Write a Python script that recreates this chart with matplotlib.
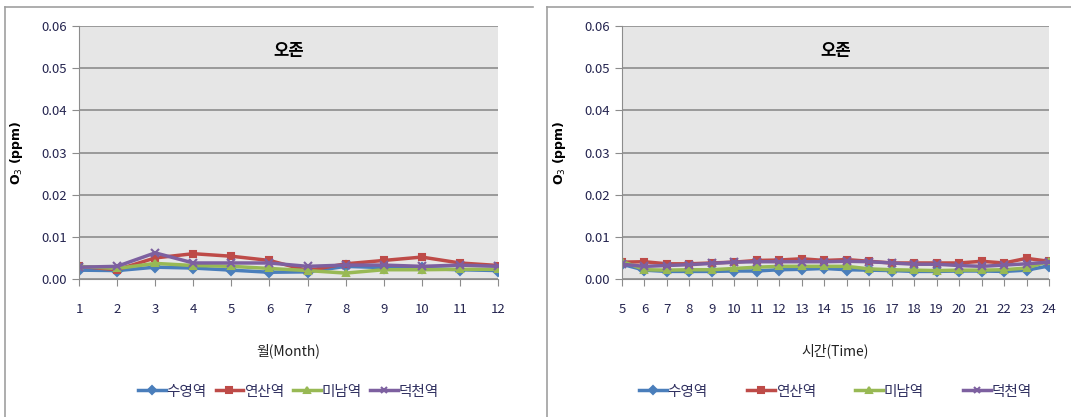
import numpy as np
import matplotlib
matplotlib.use("Agg")
import matplotlib.pyplot as plt
from matplotlib.lines import Line2D

plt.rcParams['font.family'] = ['Liberation Sans Narrow', 'Noto Sans CJK KR', 'DejaVu Sans']

# 데이터
stations = ['수영역', '연산역', '미남역', '덕천역']
colors = ['#4A7EBB', '#BE4B48', '#98B954', '#7D60A0']
markers = ['D', 's', '^', 'x']

months = [1, 2, 3, 4, 5, 6, 7, 8, 9, 10, 11, 12]
month_suyeong = [0.0021, 0.0020, 0.0028, 0.0026, 0.0021, 0.0016, 0.0017, 0.0030, 0.0027, 0.0025, 0.0022, 0.0020]
month_yeonsan = [0.0030, 0.0022, 0.0050, 0.0060, 0.0054, 0.0044, 0.0020, 0.0036, 0.0044, 0.0052, 0.0038, 0.0032]
month_minam = [0.0030, 0.0025, 0.0037, 0.0032, 0.0030, 0.0025, 0.0020, 0.0014, 0.0022, 0.0022, 0.0023, 0.0023]
month_deokcheon = [0.0028, 0.0030, 0.0062, 0.0038, 0.0038, 0.0038, 0.0030, 0.0033, 0.0033, 0.0030, 0.0033, 0.0030]

hours = list(range(5, 25))
hour_suyeong = [0.0035, 0.0021, 0.0018, 0.0018, 0.0018, 0.0019, 0.0019, 0.0022, 0.0023, 0.0025,
                0.0022, 0.0021, 0.0020, 0.0018, 0.0018, 0.0019, 0.0019, 0.0018, 0.0021, 0.0031]
hour_yeonsan = [0.0040, 0.0041, 0.0036, 0.0036, 0.0038, 0.0040, 0.0044, 0.0045, 0.0048, 0.0044,
                0.0046, 0.0042, 0.0038, 0.0038, 0.0038, 0.0038, 0.0042, 0.0038, 0.0049, 0.0042]
hour_minam = [0.0042, 0.0022, 0.0021, 0.0022, 0.0022, 0.0025, 0.0028, 0.0030, 0.0030, 0.0030,
              0.0030, 0.0024, 0.0022, 0.0021, 0.0020, 0.0021, 0.0021, 0.0022, 0.0026, 0.0042]
hour_deokcheon = [0.0035, 0.0030, 0.0032, 0.0034, 0.0037, 0.0040, 0.0041, 0.0041, 0.0041, 0.0041,
                  0.0042, 0.0041, 0.0038, 0.0035, 0.0035, 0.0032, 0.0030, 0.0033, 0.0036, 0.0040]

yticks = [0.00, 0.01, 0.02, 0.03, 0.04, 0.05, 0.06]
tick_color = '#252550'

fig = plt.figure(figsize=(10.71, 4.17), dpi=100)

# 패널 테두리
for x0 in [5 / 1071, 547 / 1071]:
    fig.add_artist(Line2D([x0, x0], [0, 1 - 7 / 417], color='#a0a0a0', lw=1.2, transform=fig.transFigure))
    fig.add_artist(Line2D([x0, x0 + 528 / 1071], [1 - 7 / 417, 1 - 7 / 417], color='#a0a0a0', lw=1.2,
                          transform=fig.transFigure))


def draw(ax, x, series, xlabel, colspace):
    ax.set_facecolor('#e6e6e6')
    for vals, name, c, m in zip(series, stations, colors, markers):
        ms = 5 if m != 'x' else 6
        ax.plot(x, vals, color=c, lw=2.5, marker=m, ms=ms, mew=1.5, label=name)
    ax.set_xlim(x[0], x[-1])
    ax.set_ylim(0, 0.06)
    ax.set_yticks(yticks)
    ax.set_yticklabels(['%.2f' % v for v in yticks])
    ax.set_xticks(x)
    ax.grid(axis='y', color='#8c8c8c', lw=1.2)
    ax.set_axisbelow(True)
    for s in ['top', 'right']:
        ax.spines[s].set_visible(False)
    ax.spines['left'].set_color('#8c8c8c')
    ax.spines['bottom'].set_color('#8c8c8c')
    ax.tick_params(axis='both', colors='#8c8c8c', labelcolor=tick_color, labelsize=9.5, length=5)
    ax.tick_params(axis='x', pad=12)
    ax.text(0.5, 0.9, '오존', transform=ax.transAxes, ha='center', va='center',
            fontsize=12, fontweight='bold', family=['Noto Sans CJK KR'])
    ax.set_xlabel(xlabel, fontsize=10, labelpad=20, family=['Noto Sans CJK KR', 'DejaVu Sans'],
                  color='#202020')
    ax.set_ylabel(r'O$_3$ (ppm)', fontsize=9, fontweight='bold', family=['DejaVu Sans'], labelpad=12)
    leg = ax.legend(loc='center', bbox_to_anchor=(0.5, -0.445), ncol=4, frameon=False,
                    prop={'family': ['Noto Sans CJK KR'], 'size': 10.5}, handlelength=1.9,
                    handletextpad=0.05, columnspacing=colspace, labelcolor='#303060', markerscale=0.8)


ax1 = fig.add_axes([79 / 1071, 138 / 417, 419 / 1071, 253 / 417])
draw(ax1, months, [month_suyeong, month_yeonsan, month_minam, month_deokcheon], '월(Month)', 0.6)

ax2 = fig.add_axes([622 / 1071, 138 / 417, 427 / 1071, 253 / 417])
draw(ax2, hours, [hour_suyeong, hour_yeonsan, hour_minam, hour_deokcheon], '시간(Time)', 2.7)

fig.savefig('out.png', dpi=100)
